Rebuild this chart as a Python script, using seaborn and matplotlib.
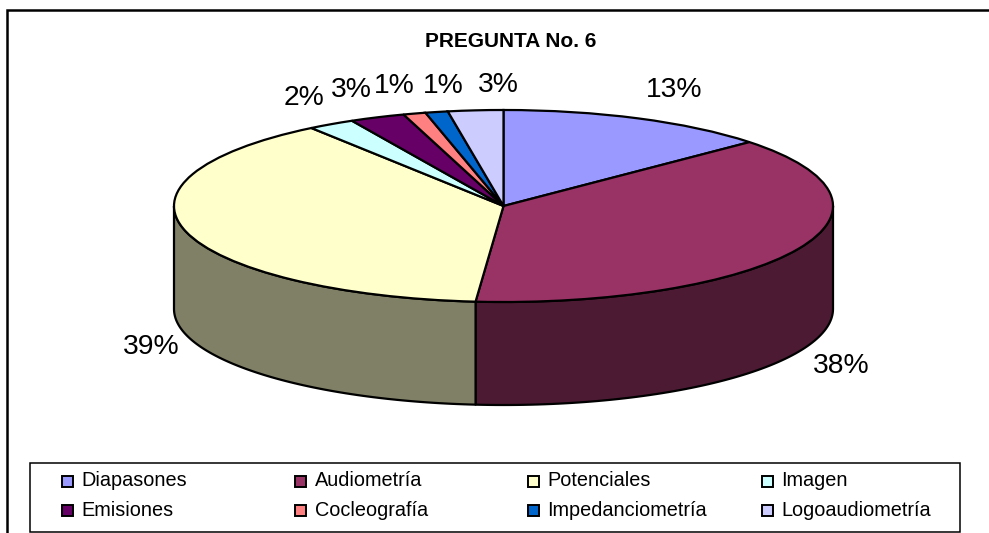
import numpy as np
import matplotlib
matplotlib.use('Agg')
import matplotlib.pyplot as plt
from matplotlib.patches import Rectangle, Polygon
import seaborn as sns

categories = ['Diapasones', 'Audiometría', 'Potenciales', 'Imagen',
              'Emisiones', 'Cocleografía', 'Impedanciometría', 'Logoaudiometría']
shares = [13.4, 37.9, 38.7, 2.3, 2.7, 1.1, 1.1, 2.7]
pct_labels = ['13%', '38%', '39%', '2%', '3%', '1%', '1%', '3%']
colors = ['#9999FF', '#993366', '#FFFFCC', '#CCFFFF',
          '#660066', '#FF8080', '#0066CC', '#CCCCFF']

W, H = 989, 533
DEPTH = 103 / 96  # alto del lateral en radios verticales

sns.set_theme(style='white')
plt.rcParams['font.family'] = ['Liberation Sans', 'DejaVu Sans']

fig = plt.figure(figsize=(W / 100, H / 100), dpi=100, facecolor='white')

# capa en pixeles para marco, titulo, etiquetas y leyenda
bg = fig.add_axes([0, 0, 1, 1])
bg.set_xlim(0, W)
bg.set_ylim(H, 0)
bg.axis('off')

bg.plot([7, 7, W], [H, 10, 10], color='black', lw=1.8, solid_joinstyle='miter')
bg.text(511, 41.5, 'PREGUNTA No. 6', fontsize=15, fontweight='bold', ha='center', va='center', color='black')

# pastel: elipse de 174..833 px por 110..302 px, con el lateral debajo
left, right, top, bottom = 174, 833, 110, 302 + 103
ax = fig.add_axes([left / W, 1 - bottom / H, (right - left) / W, (bottom - top) / H])
ax.set_facecolor('none')

# lateral: solo la mitad frontal de cada porcion
edges = np.cumsum([0] + shares) / sum(shares) * 360
for i, col in enumerate(colors):
    a0 = max(90 - edges[i + 1], -270)
    a1 = 90 - edges[i]
    # angulos visibles: parte inferior de la elipse (180..360 grados)
    for lo, hi in [(-180, 0), (-540, -360)]:
        s, e = max(a0, lo), min(a1, hi)
        if e <= s:
            continue
        t = np.radians(np.linspace(s, e, 80))
        upper = np.column_stack([np.cos(t), np.sin(t)])
        lower = upper[::-1] - [0, DEPTH]
        dark = tuple(c * 0.5 for c in matplotlib.colors.to_rgb(col))
        ax.add_patch(Polygon(np.vstack([upper, lower]), closed=True, facecolor=dark,
                             edgecolor='black', lw=1.6, clip_on=False, joinstyle='round'))

ax.pie(shares, colors=colors, startangle=90, counterclock=False, radius=1,
       wedgeprops={'edgecolor': 'black', 'linewidth': 1.6, 'clip_on': False})
ax.set_aspect('auto')
ax.set_xlim(-1, 1)
ax.set_ylim(-1 - DEPTH, 1)
ax.axis('off')

label_pos = [(674, 90), (841, 366), (151, 347), (304, 98),
             (351, 90), (394, 86), (443, 86), (498, 85)]
for txt, (x, y) in zip(pct_labels, label_pos):
    bg.text(x, y, txt, fontsize=20.3, ha='center', va='center', color='black', zorder=5)

# leyenda
bg.add_patch(Rectangle((30, 463), 930, 69, facecolor='white', edgecolor='black', lw=1.1))
col_x = [62, 295, 528, 762]
row_y = [481, 510]
for i, (name, col) in enumerate(zip(categories, colors)):
    x = col_x[i % 4]
    y = row_y[i // 4]
    bg.add_patch(Rectangle((x, y - 5.5), 11, 11, facecolor=col, edgecolor='black', lw=1.4))
    bg.text(x + 19.5, y, name, fontsize=14.3, ha='left', va='center', color='black')

fig.savefig('out.png', dpi=100, facecolor='white')
plt.close(fig)
